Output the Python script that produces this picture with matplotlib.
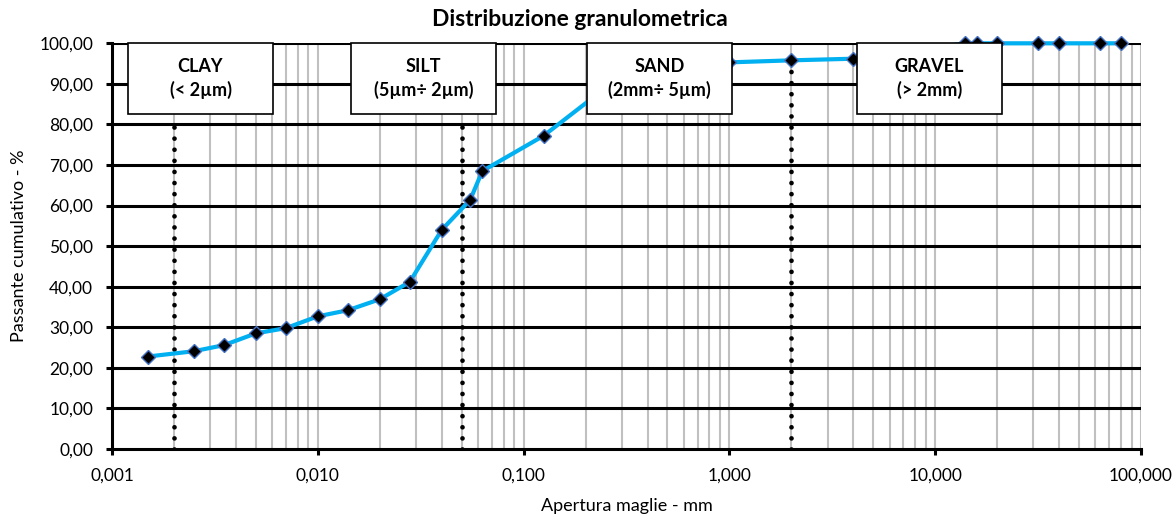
import matplotlib
matplotlib.use("Agg")
import matplotlib.pyplot as plt
from matplotlib.patches import Rectangle
import numpy as np

plt.rcParams['font.family'] = ['Lato', 'DejaVu Sans']

# ---- data ----
aperture_mm = [0.0015, 0.0025, 0.0035, 0.005, 0.007, 0.010, 0.014, 0.020, 0.028,
               0.040, 0.055, 0.063, 0.125, 0.25, 0.5, 1.0, 2.0, 4.0,
               14.0, 16.0, 20.0, 31.5, 40.0, 63.0, 80.0]
passante_pct = [22.8, 24.1, 25.6, 28.5, 29.8, 32.7, 34.2, 36.9, 41.2,
                54.0, 61.4, 68.5, 77.2, 89.0, 93.5, 95.3, 95.8, 96.2,
                100.0, 100.0, 100.0, 100.0, 100.0, 100.0, 100.0]

limit_x = [0.002, 0.05, 2.0]
limit_top = [81.0, 81.0, 97.5]

class_names = ["CLAY\n(< 2µm)", "SILT\n(5µm÷ 2µm)", "SAND\n(2mm÷ 5µm)", "GRAVEL\n(> 2mm)"]

x_ticks = [0.001, 0.01, 0.1, 1, 10, 100]
x_tick_labels = ["0,001", "0,010", "0,100", "1,000", "10,000", "100,000"]
y_ticks = [0, 10, 20, 30, 40, 50, 60, 70, 80, 90, 100]
y_tick_labels = ["0,00", "10,00", "20,00", "30,00", "40,00", "50,00",
                 "60,00", "70,00", "80,00", "90,00", "100,00"]

title = "Distribuzione granulometrica"
xlabel = "Apertura maglie - mm"
ylabel = "Passante cumulativo - %"

# ---- figure ----
W, H = 1176, 521
fig = plt.figure(figsize=(W / 100, H / 100), dpi=100)
ax_l, ax_r, ax_t, ax_b = 112, 1141, 43.3, 449
ax = fig.add_axes([ax_l / W, 1 - ax_b / H, (ax_r - ax_l) / W, (ax_b - ax_t) / H])

ax.set_xscale('log')
ax.set_xlim(0.001, 100)
ax.set_ylim(0, 100)

# grid: minor/major vertical grey, horizontal black
minor_x = [m * 10.0 ** e for e in range(-3, 2) for m in range(2, 10)]
for xv in x_ticks + minor_x:
    ax.axvline(xv, color='#C0C0C0', lw=1.5, zorder=1)
for yv in y_ticks[1:]:
    ax.axhline(yv, color='black', lw=2.2, zorder=1.5)

# dotted class limits
for xv, top in zip(limit_x, limit_top):
    ax.plot([xv, xv], [0, top], color='black', lw=3.4,
            linestyle=(0, (0.001, 2.35)), dash_capstyle='round',
            solid_capstyle='round', zorder=2)

ax.plot(aperture_mm, passante_pct, color='#00B0F0', lw=3.0, zorder=3,
        marker='D', markersize=7, markerfacecolor='black',
        markeredgecolor='#4472C4', markeredgewidth=1.0, clip_on=False)

ax.set_xticks(x_ticks)
ax.set_xticklabels(x_tick_labels)
ax.set_xticks([], minor=True)
ax.set_yticks(y_ticks)
ax.set_yticklabels(y_tick_labels)
ax.tick_params(axis='both', which='major', labelsize=12.5, color='black',
               width=2.2, length=4.5, direction='out')
ax.tick_params(axis='x', pad=9)
ax.tick_params(axis='y', pad=9)
for s in ['top', 'right']:
    ax.spines[s].set_visible(False)
for s in ['left', 'bottom']:
    ax.spines[s].set_linewidth(2.2)
    ax.spines[s].set_zorder(4)

ax.set_xlabel(xlabel, fontsize=13, labelpad=10)
ax.set_ylabel(ylabel, fontsize=13, labelpad=9)
fig.text(580 / W, 1 - 20 / H, title, fontsize=16.5, fontweight='bold',
         ha='center', va='center')

# class boxes (figure pixel positions)
box_left = [128, 351, 587, 857]
box_w, box_top, box_h = 145, 43, 71
for bl, name in zip(box_left, class_names):
    r = Rectangle((bl / W, 1 - (box_top + box_h) / H), box_w / W, box_h / H,
                  transform=fig.transFigure, facecolor='white',
                  edgecolor='black', lw=1.2, zorder=10)
    fig.add_artist(r)
    fig.text((bl + box_w / 2) / W, 1 - (box_top + box_h / 2) / H, name,
             ha='center', va='center', fontsize=13, fontweight='bold',
             linespacing=1.35, zorder=11)

fig.savefig('out.png', dpi=100)
